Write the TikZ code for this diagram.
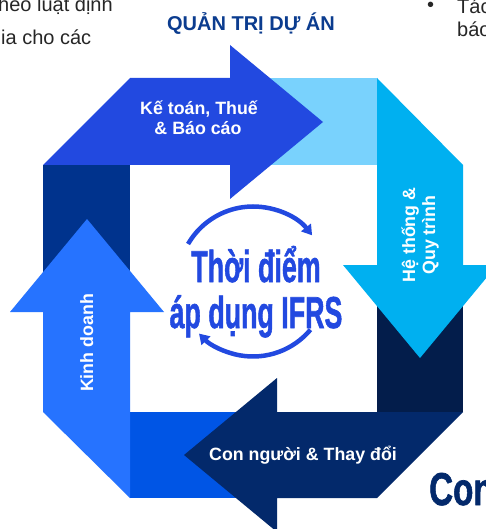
\documentclass[tikz,border=0pt]{standalone}
\usepackage{fontspec}
\setmainfont{Liberation Sans}
\newfontfamily\damfont[BoldFeatures={FakeBold=1.5}]{Liberation Sans}
\usepackage{graphicx}
\usetikzlibrary{arrows.meta}
\definecolor{ketoan}{HTML}{2249E0}
\definecolor{ketoanbg}{HTML}{79D2FD}
\definecolor{hethong}{HTML}{00B0F0}
\definecolor{hethongbg}{HTML}{031D4B}
\definecolor{connguoi}{HTML}{03296B}
\definecolor{connguoibg}{HTML}{0055E5}
\definecolor{kinhdoanh}{HTML}{2673FF}
\definecolor{kinhdoanhbg}{HTML}{00338D}
\definecolor{tieude}{HTML}{0B3C8F}
\definecolor{chuxam}{HTML}{262626}
\tikzset{
  nhan/.style={text=white,font=\bfseries\fontsize{17.8}{21}\selectfont,inner sep=0pt,anchor=base},
  chinh/.style={text=ketoan,font=\damfont\bfseries\fontsize{44.7}{46}\selectfont,inner sep=0pt,anchor=base},
  vongxoay/.style={draw=ketoan,line width=4.5pt,-{Triangle[length=10pt,width=12pt]}},
  ngoai/.style={text=chuxam,font=\fontsize{20}{24}\selectfont,inner sep=0pt,anchor=base west}
}
\begin{document}
\begin{tikzpicture}[x=1pt,y=-1pt]
\useasboundingbox (0,0) rectangle (486,529);
\clip (0,0) rectangle (486,529);
\fill[white] (0,0) rectangle (486,529);
% nen cac doan
\fill[ketoanbg] (230,78) rectangle (377,165);
\fill[hethongbg] (377,265) rectangle (463,412);
\fill[connguoibg] (130,412) rectangle (277,498);
\fill[kinhdoanhbg] (43,165) rectangle (130,312);
% bon mui ten
\fill[ketoan] (43,165) -- (130,78) -- (230,78) -- (230,45) -- (323,122) -- (230,199) -- (230,165) -- cycle;
\fill[hethong] (377,78) -- (463,165) -- (463,265) -- (497,265) -- (420,358) -- (343,265) -- (377,265) -- cycle;
\fill[connguoi] (463,412) -- (377,498) -- (277,498) -- (277,532) -- (184,455) -- (277,378) -- (277,412) -- cycle;
\fill[kinhdoanh] (130,498) -- (43,412) -- (43,312) -- (10,312) -- (87,219) -- (164,312) -- (130,312) -- cycle;
% vong tron o giua
\draw[vongxoay] (253,281.5) ++(-150:75) arc[start angle=-150,end angle=-38,radius=75];
\draw[vongxoay] (253,281.5) ++(40:75) arc[start angle=40,end angle=136,radius=75];
% chu
\node[chinh] (tdiem) at (256,282) {\scalebox{0.6}[1]{Thời điểm}};
\node[chinh] (apdung) at (256,328) {\scalebox{0.6}[1]{áp dụng IFRS}};
\node[nhan] (ketoan1) at (199,115) {Kế toán, Thuế};
\node[nhan] (ketoan2) at (198,135) {\& Báo cáo};
\node[nhan,rotate=90] (hethong1) at (415,235) {Hệ thống \&};
\node[nhan,rotate=90] (hethong2) at (435,235) {Quy trình};
\node[nhan] (connguoi) at (303,460) {Con người \& Thay đổi};
\node[nhan,rotate=90] (kinhdoanh) at (93,343) {Kinh doanh};
\node[text=tieude,font=\bfseries\fontsize{20}{24}\selectfont,inner sep=0pt,anchor=base] (tieude) at (251,31) {QUẢN TRỊ DỰ ÁN};
% phan chu ben ngoai
\node[ngoai] (trai1) at (-2,12) {heo luật định};
\node[ngoai] (trai2) at (1,45) {ia cho các};
\node[ngoai] (cham) at (427,12) {•};
\node[ngoai] (phai1) at (457,14) {Tác};
\node[ngoai] (phai2) at (457,37) {báo};
\node[text=connguoi,font=\damfont\bfseries\fontsize{46}{50}\selectfont,inner sep=0pt,anchor=base west] (con) at (429,505) {\scalebox{0.72}[1]{Con}};
\end{tikzpicture}
\end{document}
